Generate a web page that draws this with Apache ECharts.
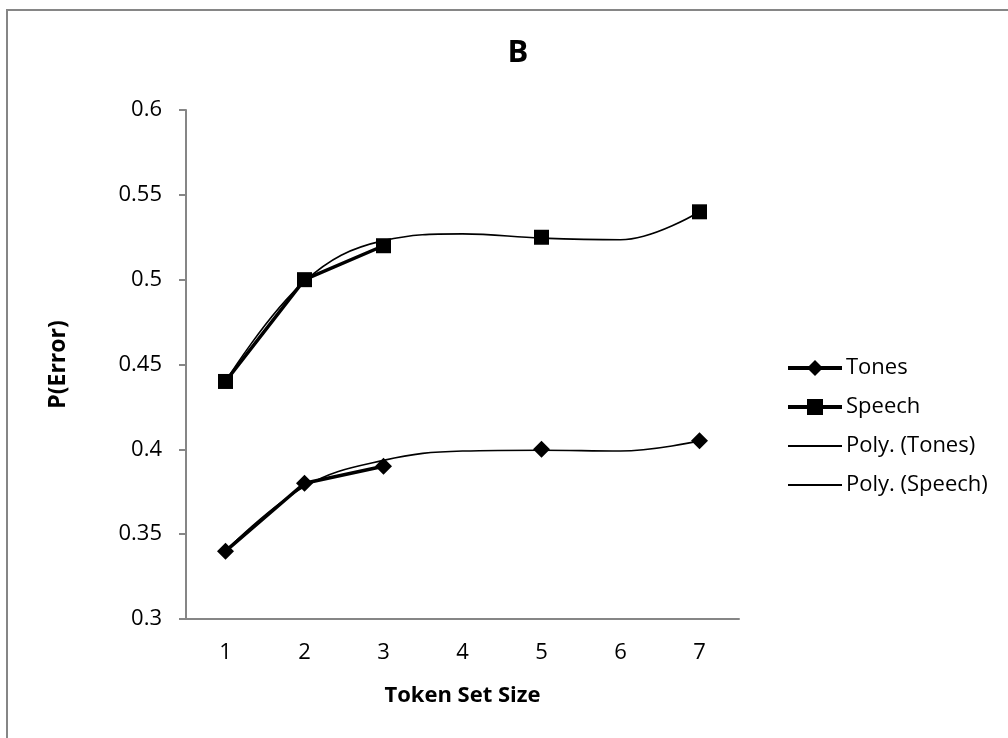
<!DOCTYPE html>
<html>
<head>
<meta charset="utf-8">
<script src="https://cdn.jsdelivr.net/npm/echarts@6/dist/echarts.min.js"></script>
<style>
  html, body { margin: 0; padding: 0; background: #fff; }
  #chart { width: 1008px; height: 738px; }
</style>
</head>
<body>
<div id="chart"></div>
<script>
// token set sizes on the x axis
const categories = ['1', '2', '3', '4', '5', '6', '7'];
// measured points (no data at 4 and 6)
const tones = [0.34, 0.38, 0.39, null, 0.40, null, 0.405];
const speech = [0.44, 0.50, 0.52, null, 0.525, null, 0.54];
// polynomial trendlines at each category
const polyTones = [0.34, 0.378, 0.3935, 0.399, 0.3995, 0.399, 0.405];
const polySpeech = [0.44, 0.499, 0.523, 0.527, 0.5245, 0.5235, 0.54];

const font = 'Open Sans';
const axisGray = '#868686';
const hidden = 'rgba(0,0,0,0)';

let chart = echarts.init(document.getElementById('chart'), null, { renderer: 'canvas' });

let option = {
    animation: false,
    backgroundColor: '#fff',
    textStyle: { fontFamily: font, color: '#000' },
    title: {
        text: 'B',
        left: 513,
        top: 33,
        textAlign: 'center',
        textStyle: { fontFamily: font, fontSize: 31, fontWeight: 'bold', color: '#000' }
    },
    graphic: [
        {
            type: 'rect',
            shape: { x: 7, y: 10, width: 1200, height: 1000 },
            style: { fill: 'none', stroke: axisGray, lineWidth: 2 },
            silent: true
        }
    ],
    legend: {
        orient: 'vertical',
        left: 781,
        top: 352,
        itemWidth: 54,
        itemHeight: 20,
        itemGap: 17,
        textStyle: { fontFamily: font, fontSize: 22, color: '#000', padding: [0, 0, 0, -1] },
        data: [
            { name: 'Tones', lineStyle: { width: 4 } },
            { name: 'Speech', lineStyle: { width: 4 } },
            { name: 'Poly. (Tones)', lineStyle: { width: 2 }, itemStyle: { color: hidden, borderColor: hidden, borderWidth: 0 } },
            { name: 'Poly. (Speech)', lineStyle: { width: 2 }, itemStyle: { color: hidden, borderColor: hidden, borderWidth: 0 } }
        ]
    },
    grid: {
        left: 186,
        right: 269,
        top: 110,
        bottom: 119,
        containLabel: false
    },
    xAxis: {
        type: 'category',
        data: categories,
        boundaryGap: true,
        name: 'Token Set Size',
        nameLocation: 'middle',
        nameGap: 66,
        nameTextStyle: { fontFamily: font, fontSize: 22, fontWeight: 'bold', color: '#000' },
        axisLine: { lineStyle: { color: axisGray, width: 2 } },
        axisTick: { show: false },
        axisLabel: { fontFamily: font, fontSize: 22, color: '#000', margin: 23 },
        splitLine: { show: false }
    },
    yAxis: {
        type: 'value',
        min: 0.3,
        max: 0.6,
        interval: 0.05,
        name: 'P(Error)',
        nameLocation: 'middle',
        nameGap: 116,
        nameRotate: 90,
        nameTextStyle: { fontFamily: font, fontSize: 23, fontWeight: 'bold', color: '#000' },
        axisLine: { show: true, lineStyle: { color: axisGray, width: 2 } },
        axisTick: { show: true, length: 7, lineStyle: { color: axisGray, width: 2 } },
        axisLabel: {
            fontFamily: font, fontSize: 22, color: '#000', margin: 24,
            formatter: (v)=> String(parseFloat(v.toFixed(2)))
        },
        splitLine: { show: false }
    },
    series: [
        {
            name: 'Tones',
            type: 'line',
            data: tones,
            connectNulls: false,
            symbol: 'diamond',
            symbolSize: 17,
            itemStyle: { color: '#000' },
            lineStyle: { color: '#000', width: 3.5 },
            z: 3
        },
        {
            name: 'Speech',
            type: 'line',
            data: speech,
            connectNulls: false,
            symbol: 'rect',
            symbolSize: 15,
            itemStyle: { color: '#000' },
            lineStyle: { color: '#000', width: 3.5 },
            z: 3
        },
        {
            name: 'Poly. (Tones)',
            type: 'line',
            data: polyTones,
            smooth: 0.4,
            showSymbol: false,
            symbol: 'none',
            itemStyle: { color: '#000' },
            lineStyle: { color: '#000', width: 1.6 },
            z: 4
        },
        {
            name: 'Poly. (Speech)',
            type: 'line',
            data: polySpeech,
            smooth: 0.4,
            showSymbol: false,
            symbol: 'none',
            itemStyle: { color: '#000' },
            lineStyle: { color: '#000', width: 1.6 },
            z: 4
        }
    ]
};

chart.setOption(option);
</script>
</body>
</html>
